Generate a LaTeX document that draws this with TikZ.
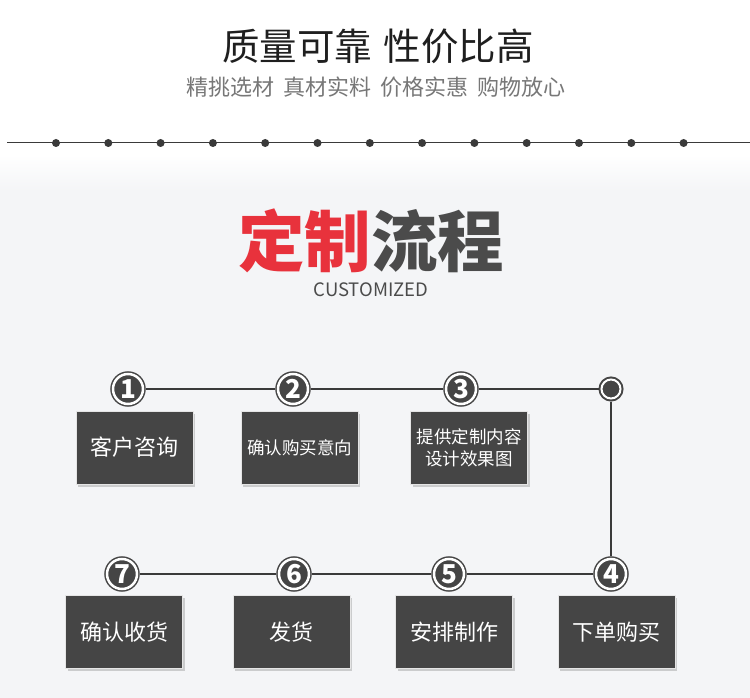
\documentclass[tikz,border=0pt]{standalone}
\usepackage{fontspec}
\setmainfont{Noto Sans CJK SC}
\usetikzlibrary{shadows,fadings}
\definecolor{fond}{HTML}{F4F5F7}
\definecolor{gris}{HTML}{454545}
\definecolor{trait}{HTML}{3A3A3A}
\definecolor{rouge}{HTML}{E8323C}
\definecolor{titre}{HTML}{4B4B4B}
\definecolor{soustitre}{HTML}{777777}
\tikzfading[name=bords, left color=transparent!100, middle color=transparent!0, right color=transparent!100]

\begin{document}
\begin{tikzpicture}[x=1pt,y=-1pt]
\tikzset{rond/.style={circle, fill=gris, draw=gris, line width=1.5pt, double=white, double distance=2.5pt, minimum size=30pt, inner sep=0pt, outer sep=3pt, text=white, font=\fontsize{26}{26}\selectfont\bfseries},
boite/.style={rectangle, fill=gris, draw=white!80!gray, line width=0.8pt, minimum width=117pt, minimum height=73pt, text=white, align=center, font=\fontsize{22}{26}\selectfont, drop shadow={shadow xshift=2pt, shadow yshift=-2.5pt, opacity=0.35}},
petit/.style={font=\fontsize{17.5}{22}\selectfont},
lien/.style={draw=trait, line width=1.5pt}}
\useasboundingbox (0,0) rectangle (750,698);
\fill[white] (0,0) rectangle (750,698);
\fill[fond] (0,190) rectangle (750,698);
\shade[top color=white, bottom color=fond] (0,155) rectangle (750,191);
\fill[gray!30, path fading=bords] (150,311) rectangle (600,315);
\shade[top color=gray!25, bottom color=fond, path fading=bords] (150,315) rectangle (600,331);
\node[font=\fontsize{37.5}{42}\selectfont, text=black!88] (T) at (378,46) {质量可靠\hspace{0.3em}性价比高};
\node[font=\fontsize{22}{26}\selectfont, text=soustitre] (S) at (376,87) {精挑选材\hspace{0.4em}真材实料\hspace{0.4em}价格实惠\hspace{0.4em}购物放心};
\coordinate (D) at (7,143);
\coordinate (F) at (750,143);
\draw[trait, line width=1pt] (D) -- (F);
\foreach \i in {0,...,12} \fill[trait] (56+52.3*\i,143) circle (4);
\node[font=\fontsize{66.5}{72}\selectfont\bfseries] (H) at (371,241) {\textcolor{rouge}{定制}\textcolor{titre}{流程}};
\node[font=\fontsize{18.5}{22}\selectfont, text=titre] (C) at (371,290) {CUSTOMIZED};
\node[boite] (B1) at (134.5,447.5) {客户咨询};
\node[boite, petit] (B2) at (299.5,447.5) {确认购买意向};
\node[boite, petit] (B3) at (469,448) {提供定制内容\\设计效果图};
\node[boite] (B4) at (616.5,632) {下单购买};
\node[boite] (B5) at (454,632) {安排制作};
\node[boite] (B6) at (291.5,632) {发货};
\node[boite] (B7) at (124,632) {确认收货};
\node[rond] (N1) at (128,389) {1};
\node[rond] (N2) at (293,389) {2};
\node[rond] (N3) at (461,389) {3};
\node[rond, minimum size=19pt, line width=2pt, double distance=2pt] (E) at (611,389) {};
\node[rond] (N4) at (611,574) {4};
\node[rond] (N5) at (449,574) {5};
\node[rond] (N6) at (294,574) {6};
\node[rond] (N7) at (122,574) {7};
\draw[lien] (N1) -- (N2) -- (N3) -- (E) -- (N4) -- (N5) -- (N6) -- (N7);
\end{tikzpicture}
\end{document}
